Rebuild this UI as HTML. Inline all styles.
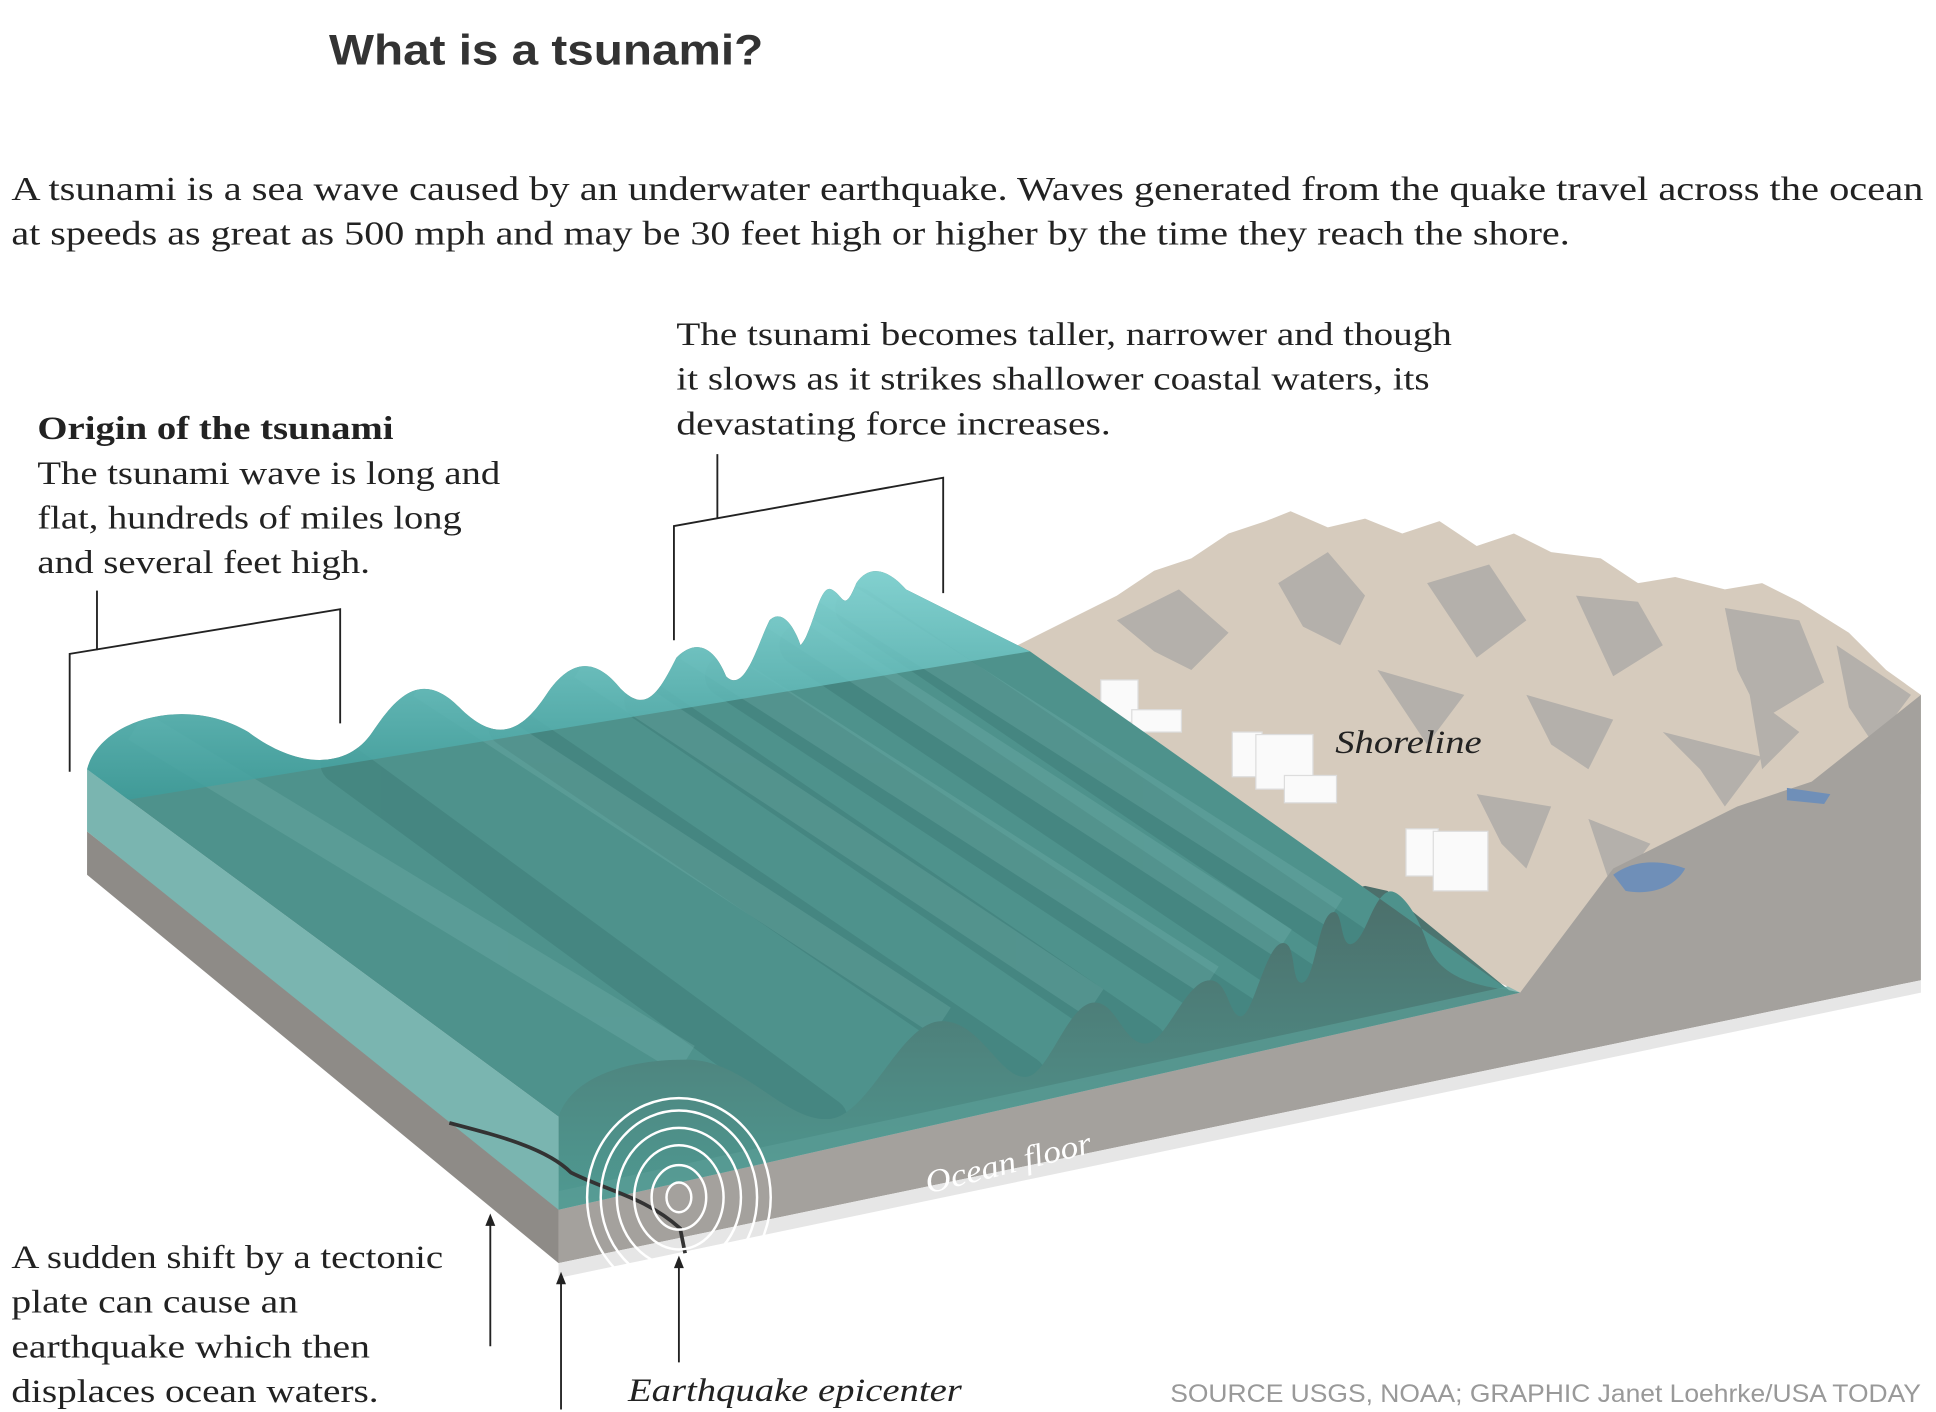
<!DOCTYPE html>
<html><head><meta charset="utf-8"><style>
html,body{margin:0;padding:0;background:#fff;}
svg{display:block;}
.s{font-family:"Liberation Serif",serif;fill:#222;}
</style></head><body>
<svg width="1936" height="1412" viewBox="0 0 1560 1138" xmlns="http://www.w3.org/2000/svg">
<defs>
<linearGradient id="back" x1="0" y1="0" x2="0" y2="1">
<stop offset="0" stop-color="#8fe0e0"/><stop offset="1" stop-color="#3a9a98"/>
</linearGradient>
<linearGradient id="ff" x1="0" y1="0" x2="0" y2="1">
<stop offset="0" stop-color="#4c6e6a"/><stop offset="1" stop-color="#4f9a92"/>
</linearGradient>
<clipPath id="wc"><path id="wp" d="M70,620 C80,580 150,560 200,590 C240,620 280,620 300,590 C320,560 340,540 370,570 C400,600 420,590 440,560 C460,530 480,530 500,555 C520,575 530,560 545,530 C560,515 575,520 585,545 C600,560 610,520 620,500 C630,490 640,505 645,520 C655,510 660,470 670,475 C680,480 680,495 690,470 C700,455 715,458 730,475 L830,525 L1216,798 C1195,795 1160,790 1150,760 C1140,730 1125,715 1118,719 C1105,725 1100,760 1088,761 C1080,760 1082,735 1075,735 C1062,735 1060,792 1049,792 C1040,792 1045,760 1034,760 C1020,760 1010,819 1000,819 C990,819 990,790 975,790 C955,790 940,841 923,841 C905,841 900,808 882,808 C860,808 845,868 826,868 C805,868 790,823 759,823 C725,823 700,902 666,902 C630,902 600,854 553,854 C500,854 460,870 450,900 Z"/></clipPath>
</defs>
<text x="265" y="52" font-family="Liberation Sans, sans-serif" font-weight="bold" font-size="34" fill="#333" textLength="350" lengthAdjust="spacingAndGlyphs">What is a tsunami?</text>
<text class="s" x="9" y="161" font-size="27" textLength="1541" lengthAdjust="spacingAndGlyphs">A tsunami is a sea wave caused by an underwater earthquake. Waves generated from the quake travel across the ocean</text>
<text class="s" x="9" y="197" font-size="27" textLength="1256" lengthAdjust="spacingAndGlyphs">at speeds as great as 500 mph and may be 30 feet high or higher by the time they reach the shore.</text>
<g class="s" font-size="26">
<text x="545" y="278" textLength="625" lengthAdjust="spacingAndGlyphs">The tsunami becomes taller, narrower and though</text>
<text x="545" y="314" textLength="607" lengthAdjust="spacingAndGlyphs">it slows as it strikes shallower coastal waters, its</text>
<text x="545" y="350" textLength="350" lengthAdjust="spacingAndGlyphs">devastating force increases.</text>
<text x="30" y="354" font-weight="bold" textLength="287" lengthAdjust="spacingAndGlyphs">Origin of the tsunami</text>
<text x="30" y="390" textLength="373" lengthAdjust="spacingAndGlyphs">The tsunami wave is long and</text>
<text x="30" y="426" textLength="342" lengthAdjust="spacingAndGlyphs">flat, hundreds of miles long</text>
<text x="30" y="462" textLength="268" lengthAdjust="spacingAndGlyphs">and several feet high.</text>
<text x="9" y="1022" textLength="348" lengthAdjust="spacingAndGlyphs">A sudden shift by a tectonic</text>
<text x="9" y="1058" textLength="231" lengthAdjust="spacingAndGlyphs">plate can cause an</text>
<text x="9" y="1094" textLength="289" lengthAdjust="spacingAndGlyphs">earthquake which then</text>
<text x="9" y="1130" textLength="296" lengthAdjust="spacingAndGlyphs">displaces ocean waters.</text>
<text x="506" y="1129" font-style="italic" textLength="269" lengthAdjust="spacingAndGlyphs">Earthquake epicenter</text>
</g>
<text x="943" y="1130" font-family="Liberation Sans, sans-serif" font-size="20" fill="#999" textLength="605" lengthAdjust="spacingAndGlyphs">SOURCE USGS, NOAA; GRAPHIC Janet Loehrke/USA TODAY</text>
<g stroke="#222" stroke-width="1.5" fill="none">
<polyline points="56,622 56,527 274,491 274,583"/><line x1="78" y1="476" x2="78" y2="524"/>
<polyline points="543,516 543,424 760,385 760,478"/><line x1="578" y1="366" x2="578" y2="418"/>
</g>
<polygon points="820,520 860,500 900,480 930,460 960,450 990,430 1020,420 1040,412 1070,425 1100,418 1130,430 1160,420 1190,440 1220,430 1250,445 1290,450 1320,470 1350,465 1390,475 1420,470 1450,485 1490,510 1520,540 1548,560 1548,640 1460,640 1400,700 1300,740 1225,800 1100,740" fill="#d6cbbd"/>
<g fill="#b4b0ab">
<polygon points="900,500 950,475 990,510 960,540 930,525"/><polygon points="1030,470 1070,445 1100,480 1080,520 1050,505"/>
<polygon points="1150,470 1200,455 1230,500 1190,530 1170,500"/><polygon points="1270,480 1320,485 1340,520 1300,545"/>
<polygon points="1390,490 1450,500 1470,550 1420,580 1400,540"/><polygon points="1110,540 1180,560 1150,600 1130,570"/>
<polygon points="1230,560 1300,580 1280,620 1250,600"/><polygon points="1340,590 1420,610 1390,650 1370,620"/>
<polygon points="1190,640 1250,650 1230,700 1210,680"/><polygon points="1280,660 1330,680 1300,720"/>
<polygon points="1480,520 1540,560 1510,600 1490,570"/><polygon points="1410,560 1450,590 1420,620"/>
</g>
<polygon points="1225,800 1300,700 1400,650 1460,630 1548,560 1548,790 450,1018 450,975" fill="#a4a19d"/>
<path d="M1300,705 C1320,690 1345,695 1358,700 C1350,715 1330,722 1310,718 Z" fill="#6f8fb8"/>
<polygon points="1440,635 1475,640 1470,648 1440,645" fill="#6f8fb8"/>
<polygon points="70,670 450,970 450,1018 70,705" fill="#8e8b87"/>
<polygon points="450,1018 1548,790 1548,800 450,1030" fill="#e6e6e6"/>
<g fill="#fafafa" stroke="#ddd" stroke-width="1">
<rect x="887" y="548" width="30" height="34"/><rect x="912" y="572" width="40" height="18"/>
<rect x="993" y="590" width="24" height="36"/><rect x="1012" y="592" width="46" height="44"/><rect x="1035" y="625" width="42" height="22"/>
<rect x="1133" y="668" width="26" height="38"/><rect x="1155" y="670" width="44" height="48"/>
</g>
<text x="1076" y="607" font-family="Liberation Serif, serif" font-style="italic" font-size="26" fill="#222" textLength="118" lengthAdjust="spacingAndGlyphs">Shoreline</text>
<polygon points="70,620 450,900 450,975 70,670" fill="#7ab5b0"/>
<polygon points="450,850 1000,740 1100,714 1118,718 1216,798 1225,800 450,975" fill="url(#ff)"/>
<use href="#wp" fill="#4e928c"/>
<g clip-path="url(#wc)">
<g stroke="#2f6a66" stroke-width="34" opacity="0.28" fill="none" stroke-linecap="round">
<line x1="275" y1="615" x2="666" y2="902"/><line x1="410" y1="585" x2="826" y2="868"/>
<line x1="520" y1="565" x2="923" y2="841"/><line x1="585" y1="545" x2="1000" y2="819"/>
<line x1="645" y1="520" x2="1049" y2="792"/><line x1="690" y1="490" x2="1088" y2="761"/>
</g>
<g stroke="#8cc6c0" stroke-width="26" opacity="0.2" fill="none">
<line x1="110" y1="585" x2="553" y2="854"/><line x1="340" y1="550" x2="759" y2="823"/>
<line x1="470" y1="535" x2="882" y2="808"/><line x1="555" y1="520" x2="975" y2="790"/>
<line x1="625" y1="495" x2="1034" y2="760"/><line x1="665" y1="473" x2="1075" y2="735"/>
</g>
<path d="M70,620 C80,580 150,560 200,590 C240,620 280,620 300,590 C320,560 340,540 370,570 C400,600 420,590 440,560 C460,530 480,530 500,555 C520,575 530,560 545,530 C560,515 575,520 585,545 C600,560 610,520 620,500 C630,490 640,505 645,520 C655,510 660,470 670,475 C680,480 680,495 690,470 C700,455 715,458 730,475 L830,525 L70,650 Z" fill="url(#back)" opacity="0.8"/>
</g>
<polygon points="450,975 1225,800 1215,795 450,960" fill="#5a9d96" opacity="0.7"/>
<path d="M362,905 C400,915 440,925 460,945 C490,960 520,965 548,990 L552,1010" fill="none" stroke="#333" stroke-width="3"/>
<g fill="none" stroke="#fff" stroke-width="2">
<ellipse cx="547" cy="965" rx="10" ry="12"/><ellipse cx="547" cy="965" rx="22" ry="26"/>
<ellipse cx="547" cy="965" rx="36" ry="42"/><ellipse cx="547" cy="965" rx="50" ry="56"/>
<ellipse cx="547" cy="965" rx="63" ry="70"/><ellipse cx="547" cy="965" rx="74" ry="80"/>
</g>
<text x="748" y="962" transform="rotate(-14 748 962)" font-family="Liberation Serif, serif" font-style="italic" font-size="26" fill="#fff" textLength="137" lengthAdjust="spacingAndGlyphs">Ocean floor</text>
<g stroke="#222" stroke-width="1.5"><line x1="395" y1="985" x2="395" y2="1085"/><line x1="452" y1="1032" x2="452" y2="1136"/><line x1="547" y1="1018" x2="547" y2="1098"/></g>
<g fill="#222"><polygon points="395,978 391,988 399,988"/><polygon points="452,1025 448,1035 456,1035"/><polygon points="547,1012 543,1022 551,1022"/></g>
</svg>
</body></html>
